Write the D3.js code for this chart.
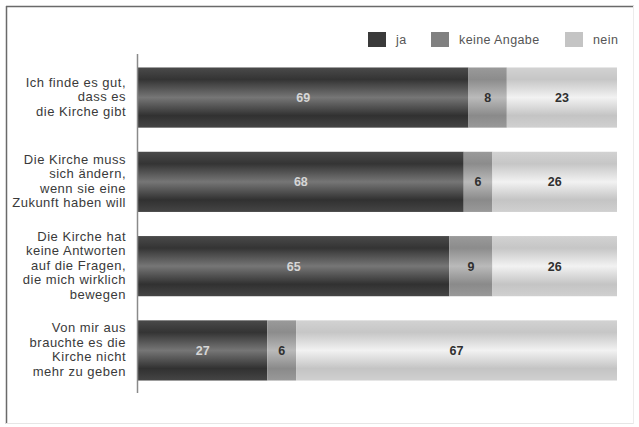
<!DOCTYPE html>
<html>
<head>
<meta charset="utf-8">
<script src="https://cdn.jsdelivr.net/npm/d3@7/dist/d3.min.js"></script>
<style>
  html, body { margin: 0; padding: 0; background: #fff; }
  svg { display: block; font-family: "Liberation Sans", Arial, Helvetica, sans-serif; }
</style>
</head>
<body>
<svg id="chart" width="639" height="427"></svg>
<script>
// Survey statements (one per bar), each split into display lines
const categories = [
  ["Ich finde es gut,", "dass es", "die Kirche gibt"],
  ["Die Kirche muss", "sich ändern,", "wenn sie eine", "Zukunft haben will"],
  ["Die Kirche hat", "keine Antworten", "auf die Fragen,", "die mich wirklich", "bewegen"],
  ["Von mir aus", "brauchte es die", "Kirche nicht", "mehr zu geben"]
];
const seriesNames = ["ja", "keine Angabe", "nein"];
const jaValues = [69, 68, 65, 27];
const keineAngabeValues = [8, 6, 9, 6];
const neinValues = [23, 26, 26, 67];

const svg = d3.select("#chart");

// Frame around the chart
svg.append("line").attr("x1", 6).attr("y1", 6.5).attr("x2", 634).attr("y2", 6.5)
  .attr("stroke", "#6a6a6a").attr("stroke-width", 1.5);
svg.append("line").attr("x1", 6.5).attr("y1", 6).attr("x2", 6.5).attr("y2", 424)
  .attr("stroke", "#6a6a6a").attr("stroke-width", 1.5);
svg.append("line").attr("x1", 6).attr("y1", 423.5).attr("x2", 634).attr("y2", 423.5)
  .attr("stroke", "#e6e6e6").attr("stroke-width", 1);
svg.append("line").attr("x1", 633.5).attr("y1", 6).attr("x2", 633.5).attr("y2", 424)
  .attr("stroke", "#ececec").attr("stroke-width", 1);

// Cylinder-like shading for the bar segments
const defs = svg.append("defs");
const shades = [
  { id: "g0", stops: [["0%", "#4a4a4a"], ["20%", "#343434"], ["50%", "#767676"], ["80%", "#313131"], ["100%", "#454545"]] },
  { id: "g1", stops: [["0%", "#9a9a9a"], ["20%", "#8c8c8c"], ["50%", "#bababa"], ["80%", "#8a8a8a"], ["100%", "#999"]] },
  { id: "g2", stops: [["0%", "#d2d2d2"], ["20%", "#c6c6c6"], ["50%", "#f2f2f2"], ["80%", "#c4c4c4"], ["100%", "#d0d0d0"]] }
];
shades.forEach(s => {
  const g = defs.append("linearGradient").attr("id", s.id)
    .attr("x1", 0).attr("y1", 0).attr("x2", 0).attr("y2", 1);
  s.stops.forEach(([o, c]) => g.append("stop").attr("offset", o).attr("stop-color", c));
});
const legendColors = ["#3a3a3a", "#808080", "#c4c4c4"];
const labelColors = ["#d6d6d6", "#303030", "#303030"];

// Scales
const x = d3.scaleLinear().domain([0, 100]).range([138, 617]);
const y = d3.scaleBand().domain(d3.range(categories.length))
  .range([55, 393]).paddingInner(0.286).paddingOuter(0.148);

// Stack the three answers per statement
const rows = categories.map((c, i) => ({
  "ja": jaValues[i], "keine Angabe": keineAngabeValues[i], "nein": neinValues[i]
}));
const stacked = d3.stack().keys(seriesNames)(rows);

const layers = svg.append("g").selectAll("g").data(stacked).join("g")
  .attr("fill", (d, i) => `url(#g${i})`);
layers.selectAll("rect").data(d => d.map((v, i) => ({ v, i }))).join("rect")
  .attr("x", d => x(d.v[0]))
  .attr("y", d => y(d.i))
  .attr("width", d => x(d.v[1]) - x(d.v[0]))
  .attr("height", y.bandwidth());

// Value labels centred in each segment
stacked.forEach((layer, k) => {
  svg.append("g").selectAll("text").data(layer.map((v, i) => ({ v, i }))).join("text")
    .attr("x", d => (x(d.v[0]) + x(d.v[1])) / 2)
    .attr("y", d => y(d.i) + y.bandwidth() / 2)
    .attr("dy", "0.36em")
    .attr("text-anchor", "middle")
    .attr("font-size", 12.5)
    .attr("font-weight", "bold")
    .attr("fill", labelColors[k])
    .text(d => d.v[1] - d.v[0]);
});

// Vertical axis line
const yAxis = d3.axisLeft(y).tickSize(0).tickFormat("");
const ax = svg.append("g").attr("transform", "translate(137.5,0)").call(yAxis);
ax.select(".domain").attr("stroke", "#8a8a8a").attr("stroke-width", 1.5)
  .attr("d", "M0,54V393");

// Category labels, right-aligned and centred on each bar
const lineH = 14.6;
categories.forEach((lines, i) => {
  const cy = y(i) + y.bandwidth() / 2 - 1;
  const t = svg.append("text")
    .attr("text-anchor", "end")
    .attr("font-size", 13)
    .attr("letter-spacing", 0.5)
    .attr("fill", "#3a3a3a");
  lines.forEach((ln, j) => {
    t.append("tspan")
      .attr("x", 126)
      .attr("y", cy + (j - (lines.length - 1) / 2) * lineH)
      .attr("dy", "0.36em")
      .text(ln);
  });
});

// Legend
const legendX = [368, 431, 565];
const legend = svg.append("g");
seriesNames.forEach((name, i) => {
  legend.append("rect").attr("x", legendX[i]).attr("y", 32)
    .attr("width", 18).attr("height", 15).attr("fill", legendColors[i]);
  legend.append("text").attr("x", legendX[i] + 28).attr("y", 44)
    .attr("font-size", 12.5).attr("letter-spacing", 0.4).attr("fill", "#555")
    .text(name);
});
</script>
</body>
</html>
